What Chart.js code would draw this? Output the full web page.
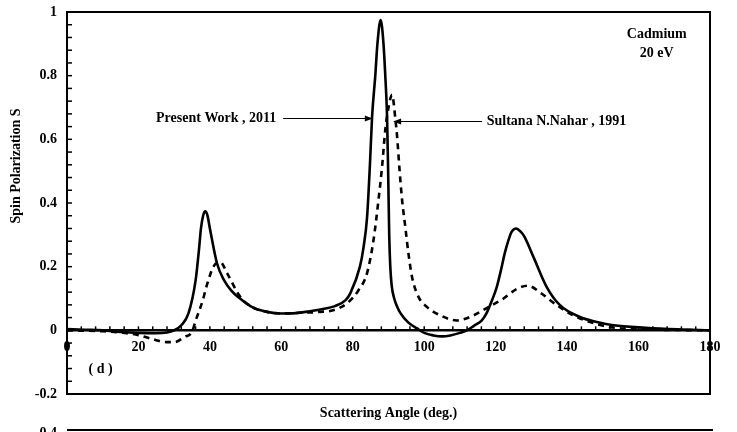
<!DOCTYPE html>
<html lang="en">
  <head>
    <meta charset="UTF-8">
    <title>Cadmium 20 eV</title>
    <script src="https://cdn.jsdelivr.net/npm/chart.js"></script>
    <style>
      body { margin: 0; background: #fff; }
    </style>
  </head>
  <body>
    <div style="width: 737px; height: 432px;">
      <canvas id="grafico" width="737" height="432"></canvas>
    </div>

    <script>
      // Present Work, 2011 (solid)
      const anguloPresent = [0,5,10,15,20,25,28,30,32,34,36,37,37.5,38.1,38.7,39.3,40,42,44,46,48,52,56,60,64,68,72,75,78,79.3,82,83,84,84.8,85.4,86.3,86.9,87.8,88.6,89.1,89.6,89.9,90.2,90.5,90.9,91.6,92.4,93.3,95.5,98,100,102.6,105,107.3,110,112,114,116,117.5,119,120.3,121.5,122.5,123.5,124.5,125.7,127,128,130.6,134.3,138,143.6,148,153,162,171,180]
      const spinPresent = [0.004,0.002,0,-0.005,-0.008,-0.009,-0.007,0,0.016,0.053,0.157,0.26,0.32,0.36,0.374,0.362,0.32,0.21,0.157,0.125,0.104,0.072,0.058,0.053,0.054,0.06,0.068,0.076,0.095,0.116,0.2,0.26,0.355,0.52,0.67,0.8,0.9,0.975,0.9,0.8,0.67,0.5,0.3,0.2,0.14,0.1,0.075,0.055,0.025,0.006,-0.008,-0.016,-0.019,-0.016,-0.008,0,0.015,0.03,0.055,0.095,0.136,0.19,0.24,0.28,0.31,0.32,0.31,0.295,0.23,0.136,0.079,0.042,0.027,0.016,0.008,0.003,0]

      // Sultana N.Nahar, 1991 (dashed)
      const anguloNahar = [0,10,15,20,24,28,30,33,35,36,38,39,41,42.9,44.8,48.5,52,56,60,65,70.9,74.5,78.4,81.6,84,85.8,87.2,88.2,89.1,90,91,91.9,92.4,93.1,93.8,94.7,95.6,96.6,98.4,100.8,104.5,109.1,113.8,117.5,122.2,125.9,129,132.9,137.1,141.7,146.4,152,157,165,180]
      const spinNahar = [0,-0.003,-0.007,-0.015,-0.028,-0.037,-0.037,-0.02,-0.005,0.03,0.094,0.136,0.2,0.215,0.18,0.105,0.072,0.058,0.053,0.055,0.058,0.063,0.085,0.126,0.18,0.283,0.41,0.514,0.63,0.7,0.74,0.667,0.61,0.503,0.41,0.325,0.24,0.167,0.105,0.073,0.047,0.031,0.047,0.07,0.1,0.13,0.14,0.115,0.079,0.047,0.026,0.01,0.005,0.002,0]

      // tick labels
      const labelsX = [0,20,40,60,80,100,120,140,160,180]
      const labelsY = [-0.2,0,0.2,0.4,0.6,0.8,1]

      const fonte = '"Liberation Serif", "Times New Roman", serif'

      const pontos = (xs, ys) => xs.map((x, i) => ({x: x, y: ys[i]}))

      const moldura = {
        id: 'moldura',
        afterDraw(chart) {
          const c = chart.ctx
          const a = chart.chartArea
          const sx = chart.scales.x
          const sy = chart.scales.y
          const y0 = sy.getPixelForValue(0)
          c.save()
          c.strokeStyle = '#000'
          c.fillStyle = '#000'

          // box
          c.lineWidth = 2
          c.strokeRect(a.left, a.top, a.right - a.left, a.bottom - a.top)

          // minor ticks
          c.lineWidth = 1.5
          sy.ticks.forEach(t => {
            const p = sy.getPixelForValue(t.value)
            c.beginPath(); c.moveTo(a.left, p); c.lineTo(a.left + 5, p); c.stroke()
          })
          sx.ticks.forEach(t => {
            const p = sx.getPixelForValue(t.value)
            c.beginPath(); c.moveTo(p, y0); c.lineTo(p, y0 - 4); c.stroke()
          })

          c.font = 'bold 14px ' + fonte

          // arrows
          const seta = (x1, x2, y) => {
            const px1 = sx.getPixelForValue(x1), px2 = sx.getPixelForValue(x2)
            const py = Math.round(sy.getPixelForValue(y)) + 0.5
            const d = px2 > px1 ? 1 : -1
            c.lineWidth = 1
            c.beginPath(); c.moveTo(px1, py); c.lineTo(px2 - d * 6, py); c.stroke()
            c.beginPath(); c.moveTo(px2, py); c.lineTo(px2 - d * 8, py - 3); c.lineTo(px2 - d * 8, py + 3); c.closePath(); c.fill()
          }
          seta(60.5, 85.6, 0.667)
          seta(116.2, 91.3, 0.657)

          c.textBaseline = 'middle'
          c.textAlign = 'right'
          c.fillText('Present Work , 2011', sx.getPixelForValue(58.6), sy.getPixelForValue(0.667))
          c.textAlign = 'left'
          c.fillText('Sultana N.Nahar , 1991', sx.getPixelForValue(117.5), sy.getPixelForValue(0.657))

          c.textAlign = 'center'
          c.fillText('Cadmium', sx.getPixelForValue(165.1), sy.getPixelForValue(0.931))
          c.fillText('20 eV', sx.getPixelForValue(165.1), sy.getPixelForValue(0.871))
          c.fillText('( d )', sx.getPixelForValue(9.4), sy.getPixelForValue(-0.123))

          // axis titles
          c.fillText('Scattering Angle (deg.)', (a.left + a.right) / 2, a.bottom + 19)
          c.save()
          c.translate(16, 166)
          c.rotate(-Math.PI / 2)
          c.fillText('Spin Polarization S', 0, 0)
          c.restore()

          // top of the next panel
          c.textAlign = 'right'
          c.fillText('0.4', 57, 433)
          c.lineWidth = 2
          c.beginPath(); c.moveTo(a.left, 430); c.lineTo(a.right + 3, 430); c.stroke()
          c.restore()
        }
      }

      const ctx = document.getElementById('grafico')

      const grafico = new Chart(ctx, {
        type: 'line',
        data: {
          datasets: [{
            label: 'Present Work , 2011',
            data: pontos(anguloPresent, spinPresent),
            borderColor: '#000',
            borderWidth: 2.6,
            pointRadius: 0,
            cubicInterpolationMode: 'monotone'
          }, {
            label: 'Sultana N.Nahar , 1991',
            data: pontos(anguloNahar, spinNahar),
            borderColor: '#000',
            borderWidth: 2.6,
            borderDash: [6, 5],
            pointRadius: 0,
            cubicInterpolationMode: 'monotone'
          }]
        },
        options: {
          responsive: false,
          animation: false,
          layout: { padding: { left: 0, right: 27, top: 12, bottom: 38 } },
          plugins: {
            legend: { display: false },
            tooltip: { enabled: false }
          },
          scales: {
            x: {
              type: 'linear',
              position: { y: 0 },
              min: 0,
              max: 180,
              grid: { drawOnChartArea: false, drawTicks: false },
              border: { display: true, color: '#000', width: 2.5 },
              ticks: {
                stepSize: 4,
                autoSkip: false,
                maxRotation: 0,
                padding: 9,
                color: '#000',
                font: { family: fonte, size: 14, weight: 'bold' },
                callback: v => labelsX.includes(Math.round(v)) && Math.abs(v - Math.round(v)) < 1e-6 ? String(Math.round(v)) : ''
              },
              afterFit: s => { s.paddingLeft = 0; s.paddingRight = 0 }
            },
            y: {
              min: -0.2,
              max: 1,
              grid: { drawOnChartArea: false, drawTicks: false },
              border: { display: true, color: '#000', width: 2 },
              ticks: {
                stepSize: 0.04,
                autoSkip: false,
                padding: 10,
                color: '#000',
                font: { family: fonte, size: 14, weight: 'bold' },
                callback: v => {
                  const r = Math.round(v * 100) / 100
                  return labelsY.includes(r) ? String(r) : ''
                }
              },
              afterFit: s => { s.width = 67; s.paddingTop = 0; s.paddingBottom = 0 }
            }
          }
        },
        plugins: [moldura]
      })
    </script>
  </body>
</html>
